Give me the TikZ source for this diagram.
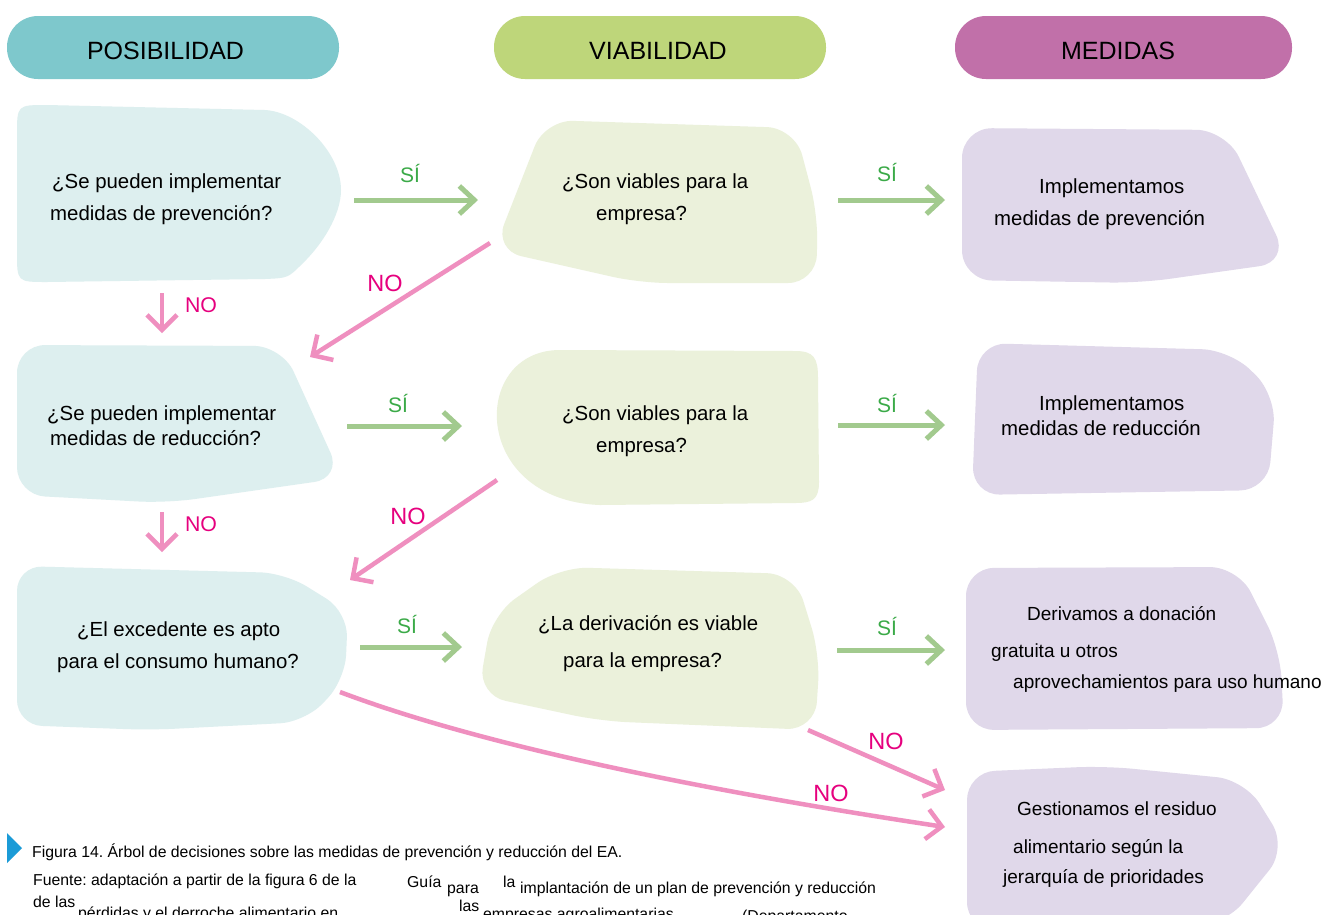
\documentclass[tikz,border=0pt]{standalone}
\usepackage{fontspec}
\setmainfont{Liberation Sans}
\usetikzlibrary{arrows.meta}
\definecolor{hteal}{HTML}{7EC8CC}
\definecolor{hgreen}{HTML}{BED67A}
\definecolor{hmag}{HTML}{C170A9}
\definecolor{bblue}{HTML}{DDEFEF}
\definecolor{bgreen}{HTML}{EBF1DB}
\definecolor{bpurp}{HTML}{E0D8EA}
\definecolor{garr}{HTML}{A2CA8E}
\definecolor{gtxt}{HTML}{3BAA48}
\definecolor{parr}{HTML}{EF8FBF}
\definecolor{ptxt}{HTML}{E6007E}
\definecolor{capblue}{HTML}{1B9BD7}
\frenchspacing
\begin{document}
\begin{tikzpicture}[x=1pt,y=-1pt,
  pill/.style={rounded corners=31pt, minimum height=63pt, inner sep=0pt},
  htxt/.style={font=\fontsize{25}{30}\selectfont, inner sep=0pt, anchor=base},
  btxt/.style={font=\fontsize{20.4}{24}\selectfont, inner sep=0pt, anchor=base west},
  mtxt/.style={font=\fontsize{19}{23}\selectfont, inner sep=0pt, anchor=base west},
  ctxt/.style={font=\fontsize{15.8}{19}\selectfont, inner sep=0pt, anchor=base west},
  yeslab/.style={font=\fontsize{21}{25}\selectfont, text=gtxt, inner sep=0pt},
  nolab/.style={font=\fontsize{23.5}{28}\selectfont, text=ptxt, inner sep=0pt},
  nosm/.style={font=\fontsize{21.3}{25}\selectfont, text=ptxt, inner sep=0pt},
  yesarr/.style={draw=garr, line width=5pt, -{Straight Barb[length=15pt,width=28pt]}},
  noarr/.style={draw=parr, line width=4.5pt, -{Straight Barb[length=15pt,width=30pt]}},
  blob/.style={rounded corners=28pt}
]
\fill[white] (0,0) rectangle (1324,914);
\useasboundingbox (0,0) rectangle (1324,914);

% headers
\node[pill, fill=hteal, minimum width=332pt] (hpos) at (173,47.5) {};
\node[pill, fill=hgreen, minimum width=332pt] (hvia) at (660,47.5) {};
\node[pill, fill=hmag, minimum width=337pt] (hmed) at (1123.5,47.5) {};
\node[htxt] (tpos) at (165.5,59) {POSIBILIDAD};
\node[htxt] (tvia) at (658,59) {VIABILIDAD};
\node[htxt] (tmed) at (1118,59) {MEDIDAS};

% blobs column A
\fill[bblue] (47,105) -- (265,110) .. controls (300,112) and (341,152) .. (341,190)
  .. controls (341,215) and (322,245) .. (302,264) .. controls (288,278) .. (265,279) -- (47,282)
  .. controls (17,282) .. (17,252) -- (17,135) .. controls (17,105) .. (47,105) -- cycle;
\fill[bblue, rounded corners=28pt] (17,345) -- (282,346) -- (342,478) -- (167,503) -- (17,495) -- cycle;
\fill[bblue, rounded corners=25pt] (17,566) -- (285,573) -- (348,612) -- (345,680) -- (305,722) -- (150,730) -- (17,725) -- cycle;
% blobs column B
\fill[bgreen, blob] (545,120) -- (795,128) -- (818,215) -- (816,283) -- (640,283) -- (494,250) -- cycle;
\fill[bgreen] (560,350) -- (795,351) .. controls (814,351) and (818,358) .. (818,378)
  -- (819,482) .. controls (819,500) and (812,503) .. (795,503)
  -- (600,505) .. controls (470,500) and (470,350) .. (560,350) -- cycle;
\fill[bgreen, blob] (560,567) -- (795,574) -- (820,655) -- (815,730) -- (600,721) -- (478,695) -- (492,615) -- cycle;
% blobs column C
\fill[bpurp, rounded corners=30pt] (962,128) -- (1226,130) -- (1289,262) -- (1140,283) -- (962,280) -- cycle;
\fill[bpurp, rounded corners=28pt] (978,343) -- (1230,350) -- (1276,395) -- (1268,490) -- (972,495) -- cycle;
\fill[bpurp, rounded corners=28pt] (966,568) -- (1238,567) -- (1280,650) -- (1284,728) -- (966,730) -- cycle;
\fill[bpurp, rounded corners=28pt] (967,772) -- (1105,766) -- (1245,780) -- (1287,848) -- (1225,925) -- (967,930) -- cycle;

% texts
\node[btxt] (a1t1) at (52,188) {¿Se pueden implementar};
\node[btxt] (a1t2) at (50,220) {medidas de prevención?};
\node[btxt] (b1t1) at (562,188) {¿Son viables para la};
\node[btxt] (b1t2) at (596,220) {empresa?};
\node[btxt] (c1t1) at (1039,193) {Implementamos};
\node[btxt] (c1t2) at (994,225) {medidas de prevención};
\node[btxt] (a2t1) at (47,420) {¿Se pueden implementar};
\node[btxt] (a2t2) at (50,445) {medidas de reducción?};
\node[btxt] (b2t1) at (562,420) {¿Son viables para la};
\node[btxt] (b2t2) at (596,452) {empresa?};
\node[btxt] (c2t1) at (1039,410) {Implementamos};
\node[btxt] (c2t2) at (1001,435) {medidas de reducción};
\node[btxt] (a3t1) at (77,636) {¿El excedente es apto};
\node[btxt] (a3t2) at (57,668) {para el consumo humano?};
\node[btxt] (b3t1) at (538,630) {¿La derivación es viable};
\node[btxt] (b3t2) at (563,667) {para la empresa?};
\node[mtxt] (c3t1) at (1027,620) {Derivamos a donación};
\node[mtxt] (c3t2) at (991,657) {gratuita u otros};
\node[mtxt] (c3t3) at (1013,688) {aprovechamientos para uso humano};
\node[mtxt] (c4t1) at (1017,815) {Gestionamos el residuo};
\node[mtxt] (c4t2) at (1013,853) {alimentario según la};
\node[mtxt] (c4t3) at (1003,883) {jerarquía de prioridades};

% connector end points
\coordinate (a1e) at (354,200); \coordinate (b1w) at (478,200);
\coordinate (b1e) at (838,200); \coordinate (c1w) at (945,200);
\coordinate (a2e) at (347,426); \coordinate (b2w) at (462,426);
\coordinate (b2e) at (838,425); \coordinate (c2w) at (945,425);
\coordinate (a3e) at (360,647); \coordinate (b3w) at (462,647);
\coordinate (b3e) at (837,650); \coordinate (c3w) at (945,650);
\coordinate (a1s) at (162,293); \coordinate (a2n) at (162,333);
\coordinate (a2s) at (162,512); \coordinate (a3n) at (162,552);
\coordinate (b1sw) at (490,243); \coordinate (a2ne) at (310,357);
\coordinate (b2sw) at (497,480); \coordinate (a3ne) at (350,580);
\coordinate (b3se) at (808,730); \coordinate (c4wa) at (945,790);
\coordinate (a3se) at (340,692); \coordinate (c4wb) at (945,827);

% SI arrows
\draw[yesarr] (a1e) -- (b1w);
\draw[yesarr] (b1e) -- (c1w);
\draw[yesarr] (a2e) -- (b2w);
\draw[yesarr] (b2e) -- (c2w);
\draw[yesarr] (a3e) -- (b3w);
\draw[yesarr] (b3e) -- (c3w);
% NO arrows
\draw[noarr] (a1s) -- (a2n);
\draw[noarr] (a2s) -- (a3n);
\draw[noarr] (b1sw) -- (a2ne);
\draw[noarr] (b2sw) -- (a3ne);
\draw[noarr] (b3se) -- (c4wa);
\draw[noarr] (a3se) .. controls (480,745) and (700,790) .. (c4wb);

% labels
\node[yeslab] (y1a) at (410,173) {SÍ};
\node[yeslab] (y1b) at (887,172) {SÍ};
\node[yeslab] (y2a) at (398,403) {SÍ};
\node[yeslab] (y2b) at (887,403) {SÍ};
\node[yeslab] (y3a) at (407,624) {SÍ};
\node[yeslab] (y3b) at (887,626) {SÍ};
\node[nosm] (n1) at (201,305) {NO};
\node[nosm] (n2) at (201,524) {NO};
\node[nolab] (n3) at (385,283) {NO};
\node[nolab] (n4) at (408,516) {NO};
\node[nolab] (n5) at (886,741) {NO};
\node[nolab] (n6) at (831,793) {NO};

% caption
\fill[capblue] (7,833) -- (22,848) -- (7,863) -- cycle;
\node[ctxt] (cap1) at (32,857) {Figura 14. Árbol de decisiones sobre las medidas de prevención y reducción del EA.};
\node[ctxt] (cap2a) at (33,885) {Fuente: adaptación a partir de la figura 6 de la};
\node[ctxt] (cap2b) at (407,887) {Guía};
\node[ctxt] (cap2c) at (447,893) {para};
\node[ctxt] (cap2d) at (503,887) {la};
\node[ctxt] (cap2e) at (520,893) {implantación de un plan de prevención y reducción};
\node[ctxt] (cap3a) at (33,907) {de las};
\node[ctxt] (cap3b) at (78,918) {pérdidas y el derroche alimentario en};
\node[ctxt] (cap3c) at (459,911) {las};
\node[ctxt] (cap3d) at (483,919) {empresas agroalimentarias};
\node[ctxt] (cap3e) at (742,921) {(Departamento};
\end{tikzpicture}
\end{document}
